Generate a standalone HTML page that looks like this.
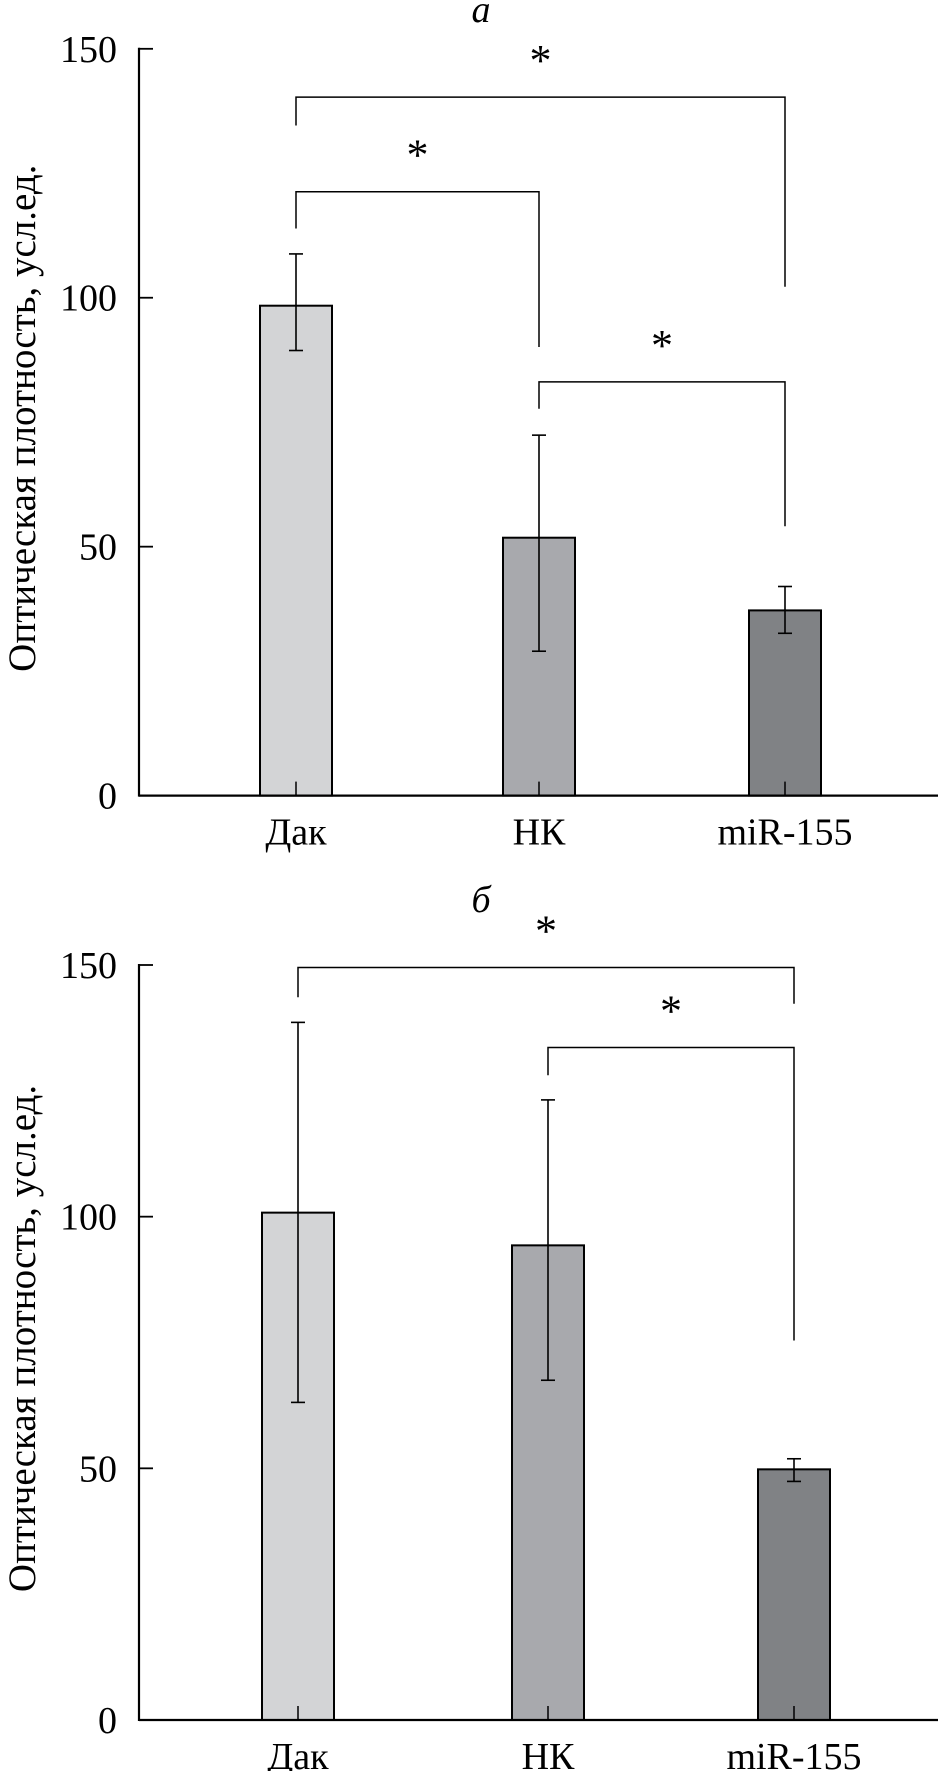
<!DOCTYPE html>
<html><head><meta charset="utf-8"><style>
html,body{margin:0;padding:0;background:#fff;}
svg{display:block;}
text{font-family:"Liberation Serif","DejaVu Serif",serif;fill:#000;}
</style></head><body>
<svg id="chart" width="938" height="1771" viewBox="0 0 938 1771" xmlns="http://www.w3.org/2000/svg"></svg>
<script>
const categories = ["Дак", "НК", "miR-155"];
const valuesA = [98.4, 51.8, 37.2];
const errHiA = [108.8, 72.4, 42.0];
const errLoA = [89.4, 29.0, 32.6];
const valuesB = [100.8, 94.3, 49.8];
const errHiB = [138.6, 123.2, 51.9];
const errLoB = [63.1, 67.5, 47.4];
const yTicks = [0, 50, 100, 150];
// brackets: [fromIndex, toIndex, level value, left leg end value, right leg end value]
const bracketsA = [[0, 2, 140.3, 134.6, 102.2], [0, 1, 121.3, 113.9, 90.1], [1, 2, 83.1, 77.7, 54.1]];
const bracketsB = [[0, 2, 149.5, 143.6, 142.3], [1, 2, 133.6, 128.1, 75.4]];

const colors = ["#d3d4d6", "#a8a9ad", "#808285"];
const svg = document.getElementById('chart');
const NS = "http://www.w3.org/2000/svg";
function mk(tag, attrs, parent) {
  const e = document.createElementNS(NS, tag);
  for (const k in attrs) e.setAttribute(k, attrs[k]);
  (parent || svg).appendChild(e);
  return e;
}

const panels = [
  {key:"a", title:"а", y0:795.6, y150:48.8, centers:[296, 539, 785], vals:valuesA, hi:errHiA, lo:errLoA, br:bracketsA, titleY:22},
  {key:"b", title:"б", y0:1720, y150:965, centers:[298, 548, 794], vals:valuesB, hi:errHiB, lo:errLoB, br:bracketsB, titleY:912}
];

panels.forEach(p => {
  const g = mk('g', {});
  
  
  const y = v => p.y0 - (p.y0 - p.y150) * v / 150;
  const axX = 139;

  const t = mk('text', {x:481, y:p.titleY, 'font-size':38, 'font-style':'italic', 'text-anchor':'middle'}, g);
  t.textContent = p.title;
  
  

  p.vals.forEach((v, i) => {
    const cx = p.centers[i];
    const r = mk('rect', {x:cx-36, y:y(v), width:72, height:p.y0 - y(v), fill:colors[i], stroke:'#000', 'stroke-width':2}, g);
    
    
    const tk = mk('line', {x1:cx, x2:cx, y1:p.y0, y2:p.y0-14, stroke:'#000', 'stroke-width':1.5}, g);
    
    
    const eg = mk('g', {stroke:'#000', 'stroke-width':1.6}, g);
    
    
    mk('line', {x1:cx, x2:cx, y1:y(p.hi[i]), y2:y(p.lo[i])}, eg);
    mk('line', {x1:cx-7, x2:cx+7, y1:y(p.hi[i]), y2:y(p.hi[i])}, eg);
    mk('line', {x1:cx-7, x2:cx+7, y1:y(p.lo[i]), y2:y(p.lo[i])}, eg);
    const lb = mk('text', {x:cx, y:p.y0+49, 'font-size':38, 'text-anchor':'middle'}, g);
    lb.textContent = categories[i];
    
    
  });

  const ya = mk('line', {x1:axX, x2:axX, y1:y(150)-1, y2:p.y0+1, stroke:'#000', 'stroke-width':2.2}, g);
  
  
  const xa = mk('line', {x1:axX, x2:938, y1:p.y0, y2:p.y0, stroke:'#000', 'stroke-width':2.2}, g);
  
  
  yTicks.forEach(v => {
    const tl = mk('line', {x1:axX, x2:axX+14, y1:y(v), y2:y(v), stroke:'#000', 'stroke-width':1.8}, g);
    
    
    const tt = mk('text', {x:117, y:y(v)+13, 'font-size':38, 'text-anchor':'end'}, g);
    tt.textContent = v;
    
    
  });
  const midY = (y(150) + p.y0) / 2 - 4;
  const yt = mk('text', {x:0, y:0, 'font-size':39, 'text-anchor':'middle', transform:`translate(35 ${midY}) rotate(-90)`}, g);
  yt.textContent = "Оптическая плотность, усл.ед.";
  
  

  p.br.forEach(b => {
    const x1 = p.centers[b[0]], x2 = p.centers[b[1]];
    const bg = mk('g', {}, g);
    
    
    mk('polyline', {points:`${x1},${y(b[3])} ${x1},${y(b[2])} ${x2},${y(b[2])} ${x2},${y(b[4])}`, fill:'none', stroke:'#000', 'stroke-width':1.5}, bg);
    const st = mk('text', {x:(x1+x2)/2, y:y(b[2])-22, 'font-size':44, 'text-anchor':'middle'}, bg);
    st.textContent = "*";
  });
});
</script>
</body></html>
